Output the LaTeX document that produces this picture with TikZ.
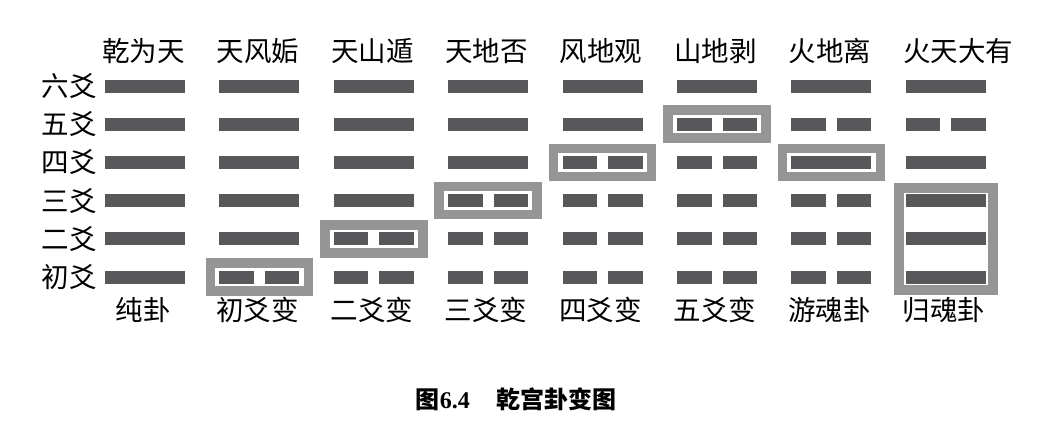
\documentclass[tikz,border=0pt]{standalone}
\usepackage{fontspec}
\setmainfont{Liberation Serif}
\newfontfamily\cjk{Noto Sans CJK SC}
\definecolor{barc}{HTML}{58585A}
\definecolor{hlc}{HTML}{959595}
\begin{document}
\begin{tikzpicture}[x=1pt,y=-1pt,
  bar/.style={fill=barc},
  hl/.style={draw=hlc,line width=9.5pt},
  lab/.style={inner sep=0pt,font=\cjk\fontsize{27.5}{27.5}\selectfont},
  captext/.style={inner sep=0pt,font=\fontsize{24}{24}\selectfont\bfseries}]
\useasboundingbox (0,0) rectangle (1060,436);
% highlight boxes (single lines)
\foreach \c/\r in {2/1,3/2,4/3,5/4,6/5,7/4}{
  \pgfmathsetmacro\cx{145+114.4*(\c-1)}
  \pgfmathsetmacro\ry{277-38.2*(\r-1)}
  \draw[hl] (\cx-49,\ry-14) rectangle (\cx+49,\ry+14);
}
% guihun box (lower three lines)
\draw[hl] (945.8-47,188) rectangle (945.8+47,290);
% lines of the hexagrams, bottom to top
\foreach \c/\bits in {1/{1,1,1,1,1,1},2/{0,1,1,1,1,1},3/{0,0,1,1,1,1},4/{0,0,0,1,1,1},
                      5/{0,0,0,0,1,1},6/{0,0,0,0,0,1},7/{0,0,0,1,0,1},8/{1,1,1,1,0,1}}{
  \pgfmathsetmacro\cx{145+114.4*(\c-1)}
  \foreach \b [count=\r] in \bits {
    \pgfmathsetmacro\ry{277-38.2*(\r-1)}
    \ifnum\b=1
      \fill[bar] (\cx-40,\ry-6.5) rectangle (\cx+40,\ry+6.5);
    \else
      \fill[bar] (\cx-40,\ry-6.5) rectangle (\cx-5.5,\ry+6.5);
      \fill[bar] (\cx+5.5,\ry-6.5) rectangle (\cx+40,\ry+6.5);
    \fi
  }
}
% hexagram names (top)
\foreach \c/\t in {1/乾为天,2/天风姤,3/天山遁,4/天地否,5/风地观,6/山地剥,7/火地离,8/火天大有}{
  \pgfmathsetmacro\cx{145+114.4*(\c-1)}
  \node[lab,anchor=west] (top\c) at (\cx-43,51) {\t};
}
% change labels (bottom)
\foreach \c/\t in {1/纯卦,2/初爻变,3/二爻变,4/三爻变,5/四爻变,6/五爻变,7/游魂卦,8/归魂卦}{
  \pgfmathsetmacro\cx{145+114.4*(\c-1)}
  \node[lab] (bot\c) at (\cx-2,310) {\t};
}
% line names (left)
\foreach \r/\t in {1/初爻,2/二爻,3/三爻,4/四爻,5/五爻,6/六爻}{
  \pgfmathsetmacro\ry{277-38.2*(\r-1)}
  \node[lab,anchor=east] (yao\r) at (97,\ry) {\t};
}
% caption
\node[captext] (caption) at (516,399) {{\cjk\bfseries 图}6.4\hspace{1.1em}{\cjk\bfseries 乾宫卦变图}};
\end{tikzpicture}
\end{document}
